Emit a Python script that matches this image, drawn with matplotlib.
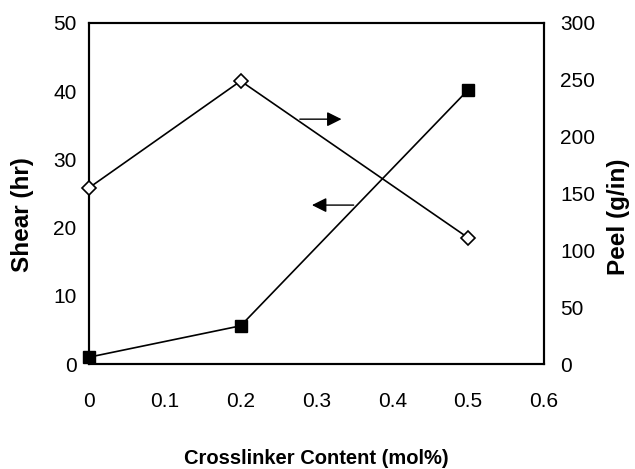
import matplotlib
matplotlib.use("Agg")
import matplotlib.pyplot as plt

x = [0, 0.2, 0.5]
shear = [1.0, 5.6, 40.2]
peel = [155, 249, 111]
xticks = [0, 0.1, 0.2, 0.3, 0.4, 0.5, 0.6]
xticklabels = ["0", "0.1", "0.2", "0.3", "0.4", "0.5", "0.6"]
shear_ticks = [0, 10, 20, 30, 40, 50]
peel_ticks = [0, 50, 100, 150, 200, 250, 300]

plt.rcParams['font.family'] = ['Liberation Sans', 'DejaVu Sans']

fig = plt.figure(figsize=(6.35, 4.69), dpi=100)
ax = fig.add_axes([89/635, 1-364/469, (544-89)/635, (364-23)/469])
ax2 = ax.twinx()

ax.plot(x, shear, color='black', lw=1.2, marker='s', markersize=9,
        markerfacecolor='black', markeredgecolor='black', clip_on=False, zorder=3)
ax2.plot(x, peel, color='black', lw=1.2, marker='D', markersize=7,
         markerfacecolor='white', markeredgecolor='black', markeredgewidth=1.2,
         clip_on=False, zorder=3)

ax.set_xlim(0, 0.6)
ax.set_ylim(0, 50)
ax2.set_ylim(0, 300)
ax.set_xticks(xticks)
ax.set_xticklabels(xticklabels)
ax.set_yticks(shear_ticks)
ax2.set_yticks(peel_ticks)

for a in (ax, ax2):
    for s in a.spines.values():
        s.set_linewidth(1.5)
ax.tick_params(axis='y', length=0, labelsize=15, pad=9)
ax2.tick_params(axis='y', length=0, labelsize=15, pad=11.5)
ax.tick_params(axis='x', length=0, labelsize=15, pad=20)

ax.set_xlabel("Crosslinker Content (mol%)", fontsize=14.5, fontweight='bold', va='center')
ax.xaxis.set_label_coords(0.5, -(458-364)/341)
ax.set_ylabel("Shear (hr)", fontsize=17.5, fontweight='bold', va='center')
ax.yaxis.set_label_coords(-(89-22.5)/455, (364-215)/341)
ax2.set_ylabel("Peel (g/in)", fontsize=17.5, fontweight='bold', va='center')
ax2.yaxis.set_label_coords(1+(618-544)/455, (364-217)/341)

ax.annotate("", xy=(0.333, 35.9), xytext=(0.278, 35.9),
            arrowprops=dict(arrowstyle='-|>', color='black', lw=1.0,
                            mutation_scale=22, shrinkA=0, shrinkB=0))
ax.annotate("", xy=(0.294, 23.3), xytext=(0.349, 23.3),
            arrowprops=dict(arrowstyle='-|>', color='black', lw=1.0,
                            mutation_scale=22, shrinkA=0, shrinkB=0))

fig.savefig("out.png", dpi=100)
